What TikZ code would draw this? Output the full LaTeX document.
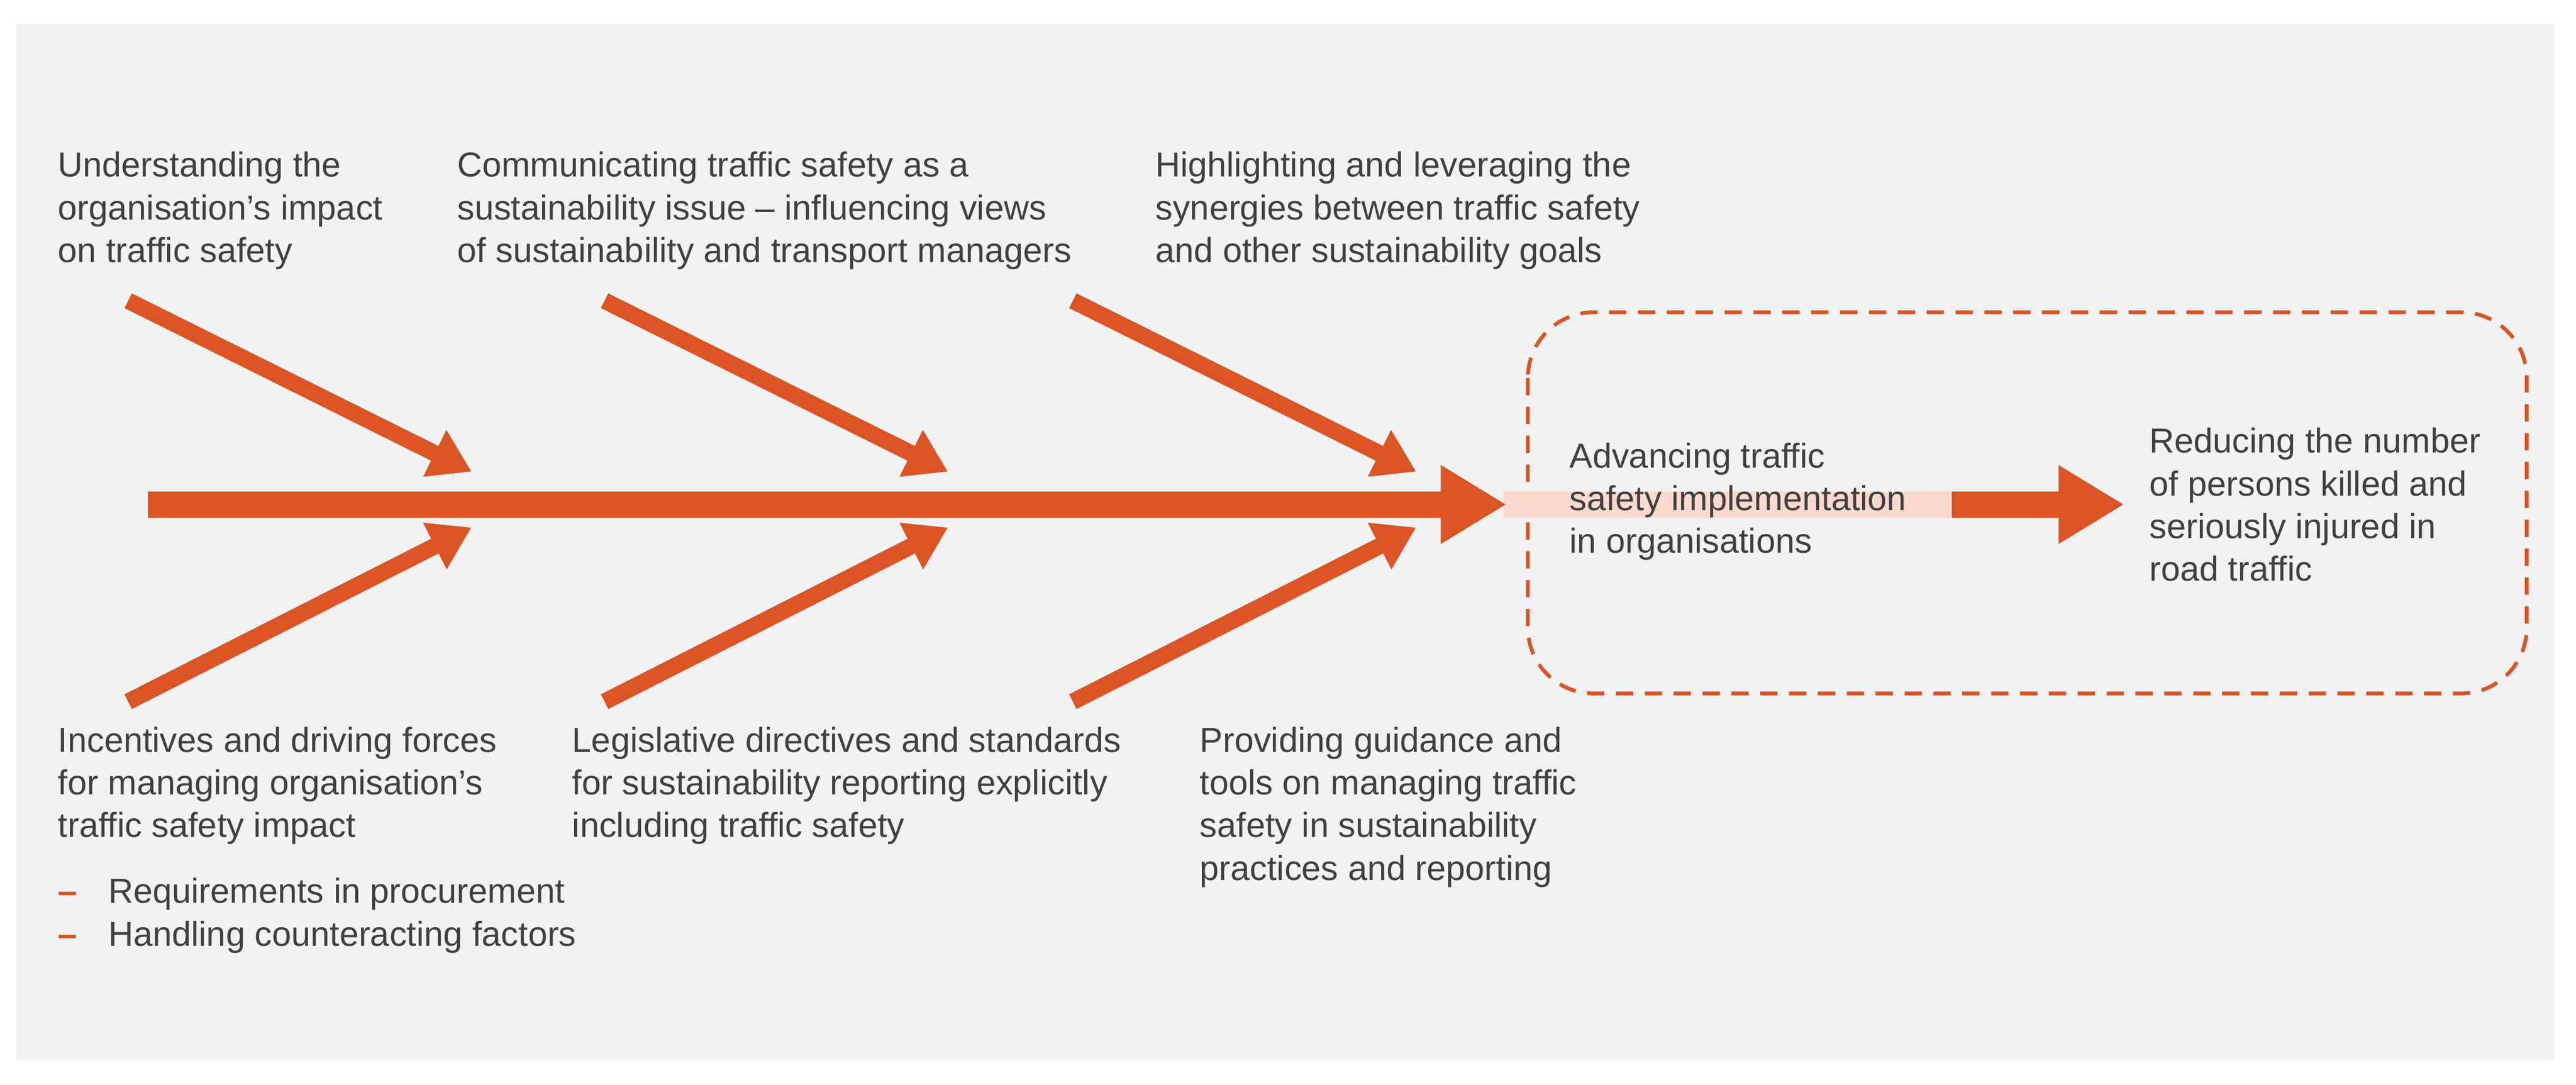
\documentclass[tikz,border=0pt]{standalone}
\usepackage{fontspec}
\setmainfont{Liberation Sans}
\usetikzlibrary{arrows.meta}
\definecolor{org}{HTML}{DC5423}
\definecolor{pnk}{HTML}{FBDACD}
\definecolor{txt}{HTML}{404040}
\definecolor{bg}{HTML}{F2F2F2}
\begin{document}
\begin{tikzpicture}[x=0.02cm,y=-0.02cm,
  lbl/.style={anchor=north west,inner sep=0pt,align=left,text=txt,font=\fontsize{12}{14.8}\selectfont},
  diag/.style={org,line width=0.2cm,-{Triangle[length=0.5cm,width=0.6cm]}},
  spine/.style={org,line width=0.32cm,-{Triangle[length=0.8cm,width=0.9cm]}}]
\useasboundingbox (0,0) rectangle (1568,660);
\fill[white] (0,0) rectangle (1568,660);
\fill[bg] (10,15) rectangle (1555,645);
% dashed box
\draw[org,line width=1.3pt,dash pattern=on 6pt off 4pt,rounded corners=0.8cm] (930,190) rectangle (1538,422);
% coordinates
\coordinate (s0) at (90,307);
\coordinate (s1) at (917,307);
\coordinate (p1) at (1188,307);
\coordinate (s2) at (1293,307);
\fill[pnk] (915,299) rectangle (1188,315);
\draw[spine] (s0) -- (s1);
\draw[spine] (p1) -- (s2);
\foreach \n/\xa in {a/78,b/368,c/653}{
  \coordinate (\n t0) at (\xa,183);
  \coordinate (\n t1) at (\xa+209,287);
  \coordinate (\n b0) at (\xa,427);
  \coordinate (\n b1) at (\xa+209,321);
  \draw[diag] (\n t0) -- (\n t1);
  \draw[diag] (\n b0) -- (\n b1);
}
\node[lbl] (t1) at (35,92) {Understanding the\\organisation’s impact\\on traffic safety};
\node[lbl] (t2) at (278,92) {Communicating traffic safety as a\\sustainability issue – influencing views\\of sustainability and transport managers};
\node[lbl] (t3) at (703,92) {Highlighting and leveraging the\\synergies between traffic safety\\and other sustainability goals};
\node[lbl] (b1) at (35,442) {Incentives and driving forces\\for managing organisation’s\\traffic safety impact};
\node[lbl] (b1a) at (35,534) {\textcolor{org}{\textbf{–}}\hspace{0.9em}Requirements in procurement\\\textcolor{org}{\textbf{–}}\hspace{0.9em}Handling counteracting factors};
\node[lbl] (b2) at (348,442) {Legislative directives and standards\\for sustainability reporting explicitly\\including traffic safety};
\node[lbl] (b3) at (730,442) {Providing guidance and\\tools on managing traffic\\safety in sustainability\\practices and reporting};
\node[lbl] (m) at (955,269) {Advancing traffic\\safety implementation\\in organisations};
\node[lbl] (r) at (1308,260) {Reducing the number\\of persons killed and\\seriously injured in\\road traffic};
\end{tikzpicture}
\end{document}
